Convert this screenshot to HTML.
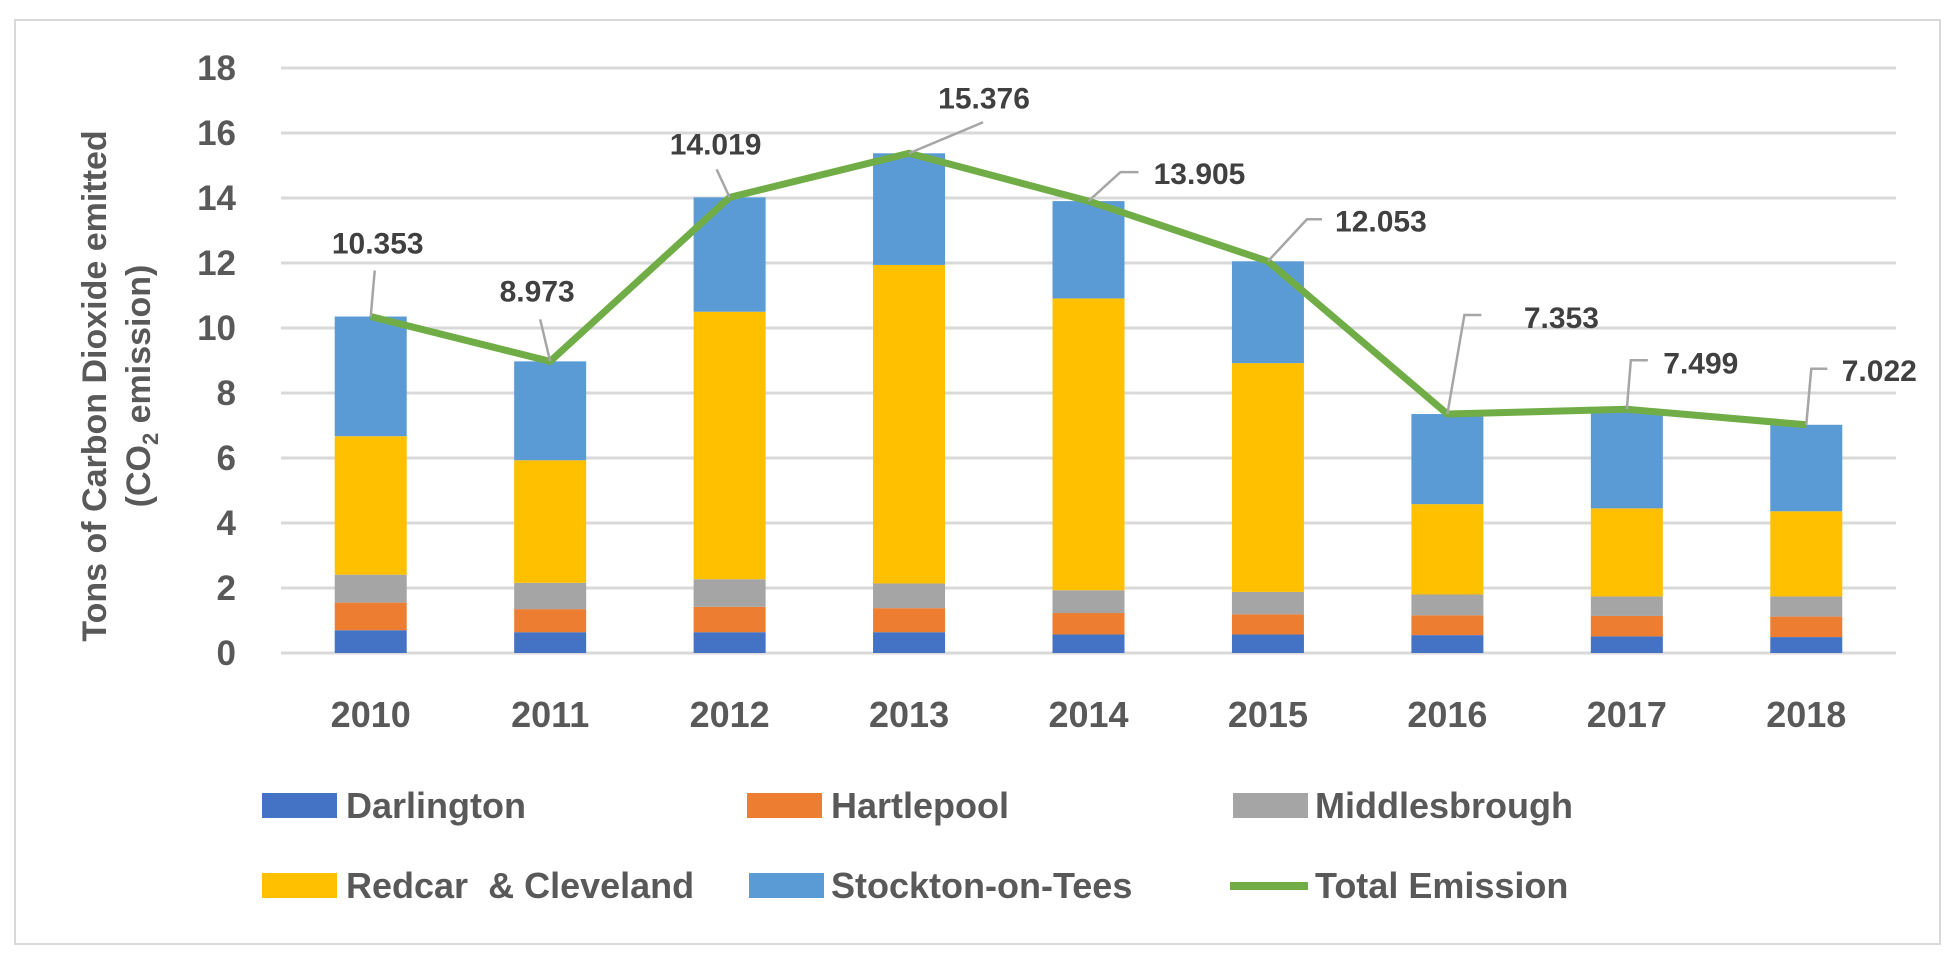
<!DOCTYPE html>
<html><head><meta charset="utf-8"><style>
html,body{margin:0;padding:0;background:#fff;}
svg{display:block;font-family:"Liberation Sans",sans-serif;}
</style></head><body>
<svg id="chart" width="1958" height="964" viewBox="0 0 1958 964" xmlns="http://www.w3.org/2000/svg">
<rect x="15" y="20" width="1925" height="924" fill="#fff" stroke="#d9d9d9" stroke-width="2"/>
<g id="grid"></g>
<g id="bars"></g>
<g id="line"></g>
<g id="labels"></g>
<g id="axes"></g>
<g transform="translate(122,386) rotate(-90)" font-weight="bold" fill="#595959" font-size="34" text-anchor="middle">
<text x="0" y="-16">Tons of Carbon Dioxide emitted</text>
<text x="0" y="28">(CO<tspan font-size="22" dy="8">2</tspan><tspan dy="-8"> emission)</tspan></text>
</g>
<g id="legend" font-size="36" font-weight="bold" fill="#595959">
<g><rect x="262" y="793" width="75" height="25" fill="#4472c4"/><text x="346" y="818">Darlington</text></g>
<g><rect x="747" y="793" width="75" height="25" fill="#ed7d31"/><text x="831" y="818">Hartlepool</text></g>
<g><rect x="1233" y="793" width="75" height="25" fill="#a5a5a5"/><text x="1315" y="818">Middlesbrough</text></g>
<g><rect x="262" y="873" width="75" height="25" fill="#ffc000"/><text x="346" y="898" xml:space="preserve">Redcar  &amp; Cleveland</text></g>
<g><rect x="749" y="873" width="75" height="25" fill="#5b9bd5"/><text x="831" y="898">Stockton-on-Tees</text></g>
<g><line x1="1230" y1="886" x2="1308" y2="886" stroke="#70ad47" stroke-width="8"/><text x="1315" y="898">Total Emission</text></g>
</g>
</svg>
<script>
const years = ["2010","2011","2012","2013","2014","2015","2016","2017","2018"];
const darlington = [0.70,0.64,0.64,0.64,0.57,0.57,0.55,0.51,0.49];
const hartlepool = [0.85,0.71,0.78,0.74,0.66,0.62,0.61,0.63,0.63];
const middlesbrough = [0.86,0.81,0.85,0.76,0.70,0.69,0.64,0.60,0.62];
const redcar = [4.26,3.77,8.23,9.80,8.98,7.04,2.78,2.71,2.62];
const totals = [10.353,8.973,14.019,15.376,13.905,12.053,7.353,7.499,7.022];
const totalLabels = ["10.353","8.973","14.019","15.376","13.905","12.053","7.353","7.499","7.022"];
const yTicks = [0,2,4,6,8,10,12,14,16,18];

const NS="http://www.w3.org/2000/svg";
const X0=281, X1=1896, Y0=653, PXU=32.5;
const band=(X1-X0)/years.length, barW=72;
const xC=i=>X0+band*(i+0.5);
const yS=v=>Y0-v*PXU;
function mk(tag,attrs,parent){const e=document.createElementNS(NS,tag);for(const k in attrs)e.setAttribute(k,attrs[k]);parent.appendChild(e);return e;}
const grid=document.getElementById('grid'),axes=document.getElementById('axes'),bars=document.getElementById('bars'),line=document.getElementById('line'),labels=document.getElementById('labels');
yTicks.forEach(t=>{
  const g=mk('line',{x1:X0,x2:X1,y1:yS(t),y2:yS(t),stroke:'#d9d9d9','stroke-width':3},grid);
  
  
  const tx=mk('text',{x:236,y:yS(t)+12,'text-anchor':'end','font-size':35,'font-weight':'bold',fill:'#595959'},axes);
  tx.textContent=t;
  
  
});
years.forEach((yr,i)=>{
  const tx=mk('text',{x:xC(i),y:727,'text-anchor':'middle','font-size':36,'font-weight':'bold',fill:'#595959'},axes);
  tx.textContent=yr;
  
  
  const stockton=totals[i]-darlington[i]-hartlepool[i]-middlesbrough[i]-redcar[i];
  const segs=[[darlington[i],'#4472c4'],[hartlepool[i],'#ed7d31'],[middlesbrough[i],'#a5a5a5'],[redcar[i],'#ffc000'],[stockton,'#5b9bd5']];
  let base=0;
  segs.forEach(([v,c])=>{
    const r=mk('rect',{x:xC(i)-barW/2,y:yS(base+v),width:barW,height:v*PXU,fill:c},bars);
    
    
    base+=v;
  });
});
const pts=totals.map((v,i)=>xC(i)+','+yS(v)).join(' ');
const pl=mk('polyline',{points:pts,fill:'none',stroke:'#70ad47','stroke-width':7,'stroke-linejoin':'round'},line);


// label offsets relative to point: [textDx,textDy,leaderEndDx,leaderEndDy,hookLen]
const offs=[[7,-74,4,-46,0],[-13,-71,-10,-42,0],[-14,-54,-13,-28,0],[75,-56,74,-31,0],[111,-28,32,-29,18],[113,-41,39,-42,15],[114,-97,17,-99,17],[74,-47,4,-49,17],[73,-55,5,-56,16]];
totals.forEach((v,i)=>{
  const px=xC(i),py=yS(v),o=offs[i];
  const l=mk('polyline',{points:`${px},${py} ${px+o[2]},${py+o[3]} ${px+o[2]+o[4]},${py+o[3]}`,fill:'none',stroke:'#a6a6a6','stroke-width':2.5},labels);
  
  
  const t=mk('text',{x:px+o[0],y:py+o[1]+11,'text-anchor':'middle','font-size':30,'font-weight':'bold',fill:'#404040'},labels);
  t.textContent=totalLabels[i];
  
  
});
</script>
</body></html>
